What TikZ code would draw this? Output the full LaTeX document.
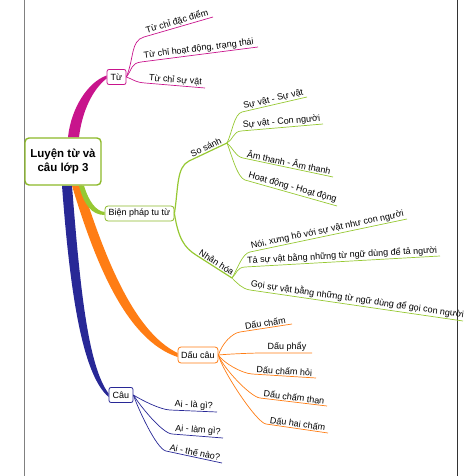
\documentclass[tikz,border=0pt]{standalone}
\usepackage{fontspec}
\setmainfont{Liberation Sans}
\usetikzlibrary{backgrounds,calc}
\definecolor{tucol}{RGB}{200,20,140}
\definecolor{bpcol}{RGB}{150,200,50}
\definecolor{rootcol}{RGB}{140,185,40}
\definecolor{dccol}{RGB}{255,125,20}
\definecolor{caucol}{RGB}{40,40,150}

\begin{document}
\begin{tikzpicture}[x=1pt, y=-1pt]
  \tikzstyle{root} = [rectangle, draw=rootcol, line width=1.4pt, fill=white, rounded corners=4pt, minimum width=76pt, minimum height=47pt, align=center, font=\bfseries\fontsize{11.5}{14}\selectfont]
  \tikzstyle{topic} = [rectangle, draw, fill=white, line width=0.8pt, rounded corners=2pt, inner sep=1pt, minimum height=15pt, font=\fontsize{9}{10}\selectfont]
  \tikzstyle{leaf} = [sloped, above, inner sep=1pt, font=\fontsize{9}{10}\selectfont, text=black]
  \tikzstyle{twig} = [draw, line width=0.7pt]
  \tikzstyle{bough} = [draw, line width=1.2pt]

  \useasboundingbox (0,0) rectangle (466,476);
  \draw[gray, line width=0.8pt] (24.5,0) -- (24.5,476);
  \draw[black!80, line width=0.8pt] (457,0) -- (457,476);

  \node[root] (root) at (63,161.5) {Luyện từ và\\câu lớp 3};
  \node[topic, draw=tucol, minimum width=19pt] (tu) at (116.5,77) {Từ};
  \node[topic, draw=rootcol, minimum width=69pt, rounded corners=3pt] (bp) at (139.5,213.5) {Biện pháp tu từ};
  \node[topic, draw=dccol, minimum width=40pt, minimum height=16pt, rounded corners=3pt] (dc) at (198,355) {Dấu câu};
  \node[topic, draw=caucol, minimum width=24pt] (cau) at (121,395) {Câu};
  \coordinate (ss) at (227,143);
  \coordinate (nh) at (232,278);

  \begin{scope}[on background layer]
    \fill[caucol] ([xshift=-1pt]root.south) .. controls (70,292) and (82,374) .. ([yshift=-2pt]cau.west) -- ([yshift=1.5pt]cau.west) .. controls (88,366) and (80,288) .. ([xshift=9pt]root.south) -- cycle;
    \fill[dccol] ([xshift=9pt]root.south) .. controls (95,262) and (126,340) .. ([yshift=-2pt]dc.west) -- ([yshift=2pt]dc.west) .. controls (134,332) and (105,258) .. ([xshift=19pt]root.south) -- cycle;
    \fill[bpcol] ([xshift=16pt]root.south) .. controls (84,205) and (92,215) .. ([yshift=-1.5pt]bp.west) -- ([yshift=1.5pt]bp.west) .. controls (96,211) and (89,202) .. ([xshift=21pt]root.south) -- cycle;
    \fill[tucol] ([xshift=5pt]root.north) .. controls (71,108) and (88,82) .. ([yshift=1.5pt]tu.west) -- ([yshift=-1.5pt]tu.west) .. controls (92,90) and (82,112) .. ([xshift=16pt]root.north) -- cycle;
  \end{scope}

  \path[twig, tucol] (tu.east) .. controls +(8,-20) and ($(144,37)!-14pt!(213,17)$) .. (144,37) -- (213,17) node[leaf, midway] (tu1) {Từ chỉ đặc điểm};
  \path[twig, tucol] (tu.east) .. controls +(6,-8) and ($(141,62)!-10pt!(258,47)$) .. (141,62) -- (258,47) node[leaf, midway] (tu2) {Từ chỉ hoạt động, trạng thái};
  \path[twig, tucol] (tu.east) .. controls +(8,3) and ($(145,83)!-10pt!(205,88)$) .. (145,83) -- (205,88) node[leaf, midway] (tu3) {Từ chỉ sự vật};

  \path[bough, bpcol] (bp.east) .. controls +(4,-25) and ($(189,161)!-14pt!(ss)$) .. (189,161) -- (ss) node[leaf, midway] (sosanh) {So sánh};
  \path[bough, bpcol] (bp.east) .. controls +(4,25) and ($(196,255)!-14pt!(nh)$) .. (196,255) -- (nh) node[leaf, midway] (nhanhoa) {Nhân hóa};

  \path[twig, bpcol] (ss) .. controls +(5,-10) and ($(242,112)!-8pt!(307,97)$) .. (242,112) -- (307,97) node[leaf, midway] (ss1) {Sự vật - Sự vật};
  \path[twig, bpcol] (ss) .. controls +(6,-3) and ($(241,131)!-8pt!(323,124)$) .. (241,131) -- (323,124) node[leaf, midway] (ss2) {Sự vật - Con người};
  \path[twig, bpcol] (ss) .. controls +(6,5) and ($(243,158)!-8pt!(333,177)$) .. (243,158) -- (333,177) node[leaf, midway] (ss3) {Âm thanh - Âm thanh};
  \path[twig, bpcol] (ss) .. controls +(4,10) and ($(245,180)!-8pt!(337,206)$) .. (245,180) -- (337,206) node[leaf, midway] (ss4) {Hoạt động - Hoạt động};

  \path[twig, bpcol] (nh) .. controls +(6,-10) and ($(250,252)!-8pt!(407,219)$) .. (250,252) -- (407,219) node[leaf, midway] (nh1) {Nói, xưng hô với sự vật như con người};
  \path[twig, bpcol] (nh) .. controls +(5,-5) and ($(245,267)!-8pt!(440,256)$) .. (245,267) -- (440,256) node[leaf, midway] (nh2) {Tả sự vật bằng những từ ngữ dùng để tả người};
  \path[twig, bpcol] (nh) .. controls +(5,5) and ($(250,290)!-8pt!(463,321)$) .. (250,290) -- (463,321) node[leaf, midway] (nh3) {Gọi sự vật bằng những từ ngữ dùng để gọi con người};

  \path[twig, dccol] (dc.east) .. controls +(4,-12) and ($(240,332)!-8pt!(292,324)$) .. (240,332) -- (292,324) node[leaf, midway] (dc1) {Dấu chấm};
  \path[twig, dccol] (dc.east) .. controls +(10,-1) and ($(262,353)!-10pt!(312,353)$) .. (262,353) -- (312,353) node[leaf, midway] (dc2) {Dấu phẩy};
  \path[twig, dccol] (dc.east) .. controls +(5,8) and ($(252,374)!-10pt!(316,378)$) .. (252,374) -- (316,378) node[leaf, midway] (dc3) {Dấu chấm hỏi};
  \path[twig, dccol] (dc.east) .. controls +(4,12) and ($(260,398)!-10pt!(327,406)$) .. (260,398) -- (327,406) node[leaf, midway] (dc4) {Dấu chấm than};
  \path[twig, dccol] (dc.east) .. controls +(3,14) and ($(266,424)!-10pt!(328,433)$) .. (266,424) -- (328,433) node[leaf, midway] (dc5) {Dấu hai chấm};

  \path[twig, caucol] (cau.east) .. controls +(8,5) and ($(170,410)!-10pt!(217,412)$) .. (170,410) -- (217,412) node[leaf, midway] (cau1) {Ai - là gì?};
  \path[twig, caucol] (cau.east) .. controls +(6,10) and ($(172,434)!-10pt!(223,438)$) .. (172,434) -- (223,438) node[leaf, midway] (cau2) {Ai - làm gì?};
  \path[twig, caucol] (cau.east) .. controls +(4,12) and ($(166,451)!-10pt!(222,463)$) .. (166,451) -- (222,463) node[leaf, midway] (cau3) {Ai - thế nào?};
\end{tikzpicture}
\end{document}
